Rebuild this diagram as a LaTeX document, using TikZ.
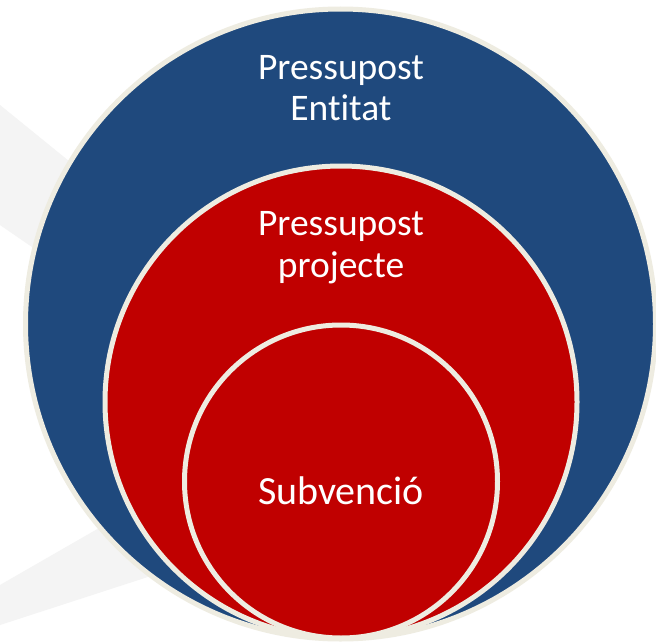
\documentclass[tikz,border=0pt]{standalone}
\usepackage{fontspec}
\setmainfont{Carlito}[Ligatures={NoCommon}]
\definecolor{ringc}{HTML}{EEECE1}
\definecolor{bluec}{HTML}{1F497D}
\definecolor{redc}{HTML}{C00000}
\definecolor{bgshade}{HTML}{F4F4F4}
\begin{document}
\begin{tikzpicture}[x=1pt,y=-1pt,
  ring/.style={circle,draw=ringc,line width=5pt,inner sep=0pt},
  lbl/.style={text=white,align=center,inner sep=0pt,anchor=base,
    font=\fontsize{37.5}{42}\selectfont}]
\useasboundingbox (0,0) rectangle (656,642);
\clip (0,0) rectangle (656,642);
\fill[white] (0,0) rectangle (656,642);
% faint background chevron
\fill[bgshade] (0,105) -- (160,235) -- (160,335) -- (0,225) -- cycle;
\fill[bgshade] (0,585) -- (200,470) -- (200,560) -- (0,625) -- cycle;
% circles
\node[ring,fill=bluec,minimum size=630pt] (outer) at (340.5,324) {};
\node[ring,fill=redc,minimum size=472pt] (middle) at (341,402) {};
\node[ring,fill=redc,minimum size=313pt] (inner) at (341,481.5) {};
% labels
\node[lbl] (t1) at (341,121) {Pressupost\\Entitat};
\node[lbl] (t2) at (341,277) {Pressupost\\projecte};
\node[lbl,font=\fontsize{40}{42}\selectfont] (t3) at (341,504) {Subvenció};
\end{tikzpicture}
\end{document}
